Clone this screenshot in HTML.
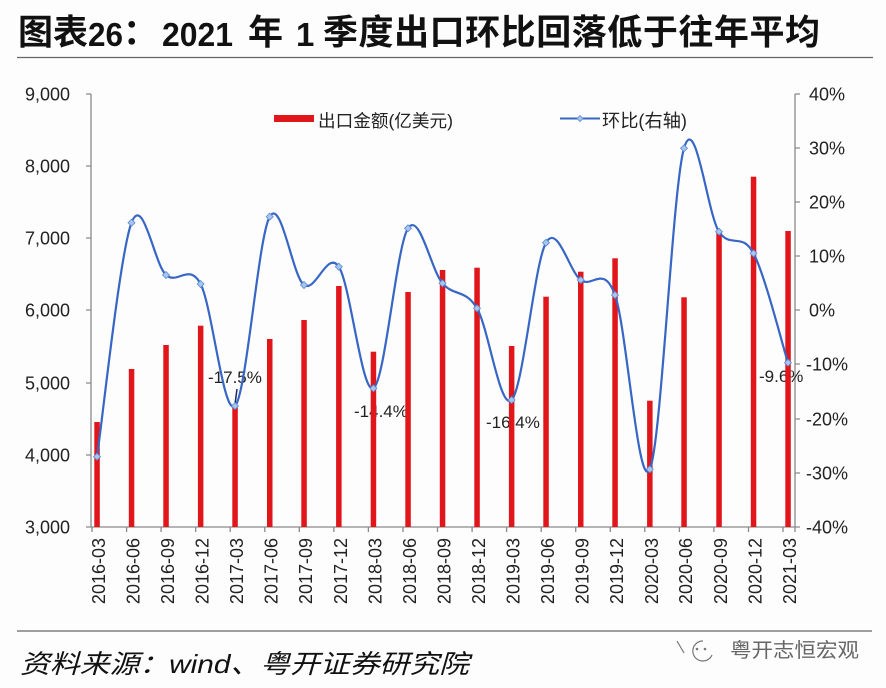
<!DOCTYPE html>
<html><head><meta charset="utf-8"><style>
html,body{margin:0;padding:0;background:#fdfdfd;}
svg{display:block;}
</style></head><body>
<svg width="886" height="688" viewBox="0 0 886 688" xmlns="http://www.w3.org/2000/svg">
<rect width="886" height="688" fill="#fdfdfd"/>
<!-- Title -->
<g fill="#111" font-weight="bold">
<text x="18" y="44.5" font-family="'Noto Sans CJK SC', sans-serif" font-size="35">图表</text>
<text x="88" y="46" font-family="'Liberation Sans', sans-serif" font-size="33" textLength="35" lengthAdjust="spacingAndGlyphs">26</text>
<text x="123" y="44.5" font-family="'Noto Sans CJK SC', sans-serif" font-size="35">：</text>
<text x="162" y="46" font-family="'Liberation Sans', sans-serif" font-size="33" textLength="71" lengthAdjust="spacingAndGlyphs">2021</text>
<text x="248" y="44.5" font-family="'Noto Sans CJK SC', sans-serif" font-size="35">年</text>
<text x="296" y="46" font-family="'Liberation Sans', sans-serif" font-size="33">1</text>
<text x="323" y="44.5" font-family="'Noto Sans CJK SC', sans-serif" font-size="35" textLength="497" lengthAdjust="spacing">季度出口环比回落低于往年平均</text>
</g>
<line x1="17" y1="57.5" x2="873" y2="57.5" stroke="#666" stroke-width="1.2"/>

<!-- Axes -->
<g stroke="#8a8a8a" stroke-width="1.3" fill="none">
<line x1="91" y1="94" x2="91" y2="527"/>
<line x1="795" y1="94" x2="795" y2="527"/>
<line x1="91" y1="527" x2="795" y2="527"/>
<path d="M86 94H91M86 166H91M86 238H91M86 310H91M86 383H91M86 455H91M86 527H91"/>
<path d="M795 94H800M795 148H800M795 202H800M795 256H800M795 310H800M795 364H800M795 419H800M795 473H800M795 527H800"/>
<path d="M92 527V532M126.6 527V532M161.1 527V532M195.7 527V532M230.2 527V532M264.8 527V532M299.3 527V532M333.9 527V532M368.4 527V532M403 527V532M437.5 527V532M472.1 527V532M506.6 527V532M541.2 527V532M575.7 527V532M610.3 527V532M644.8 527V532M679.4 527V532M713.9 527V532M748.5 527V532M783 527V532M795 527V532"/>
</g>

<!-- Left axis labels -->
<g font-family="'Liberation Sans', sans-serif" font-size="18" fill="#222" text-anchor="end">
<text x="70" y="100.5">9,000</text>
<text x="70" y="172.5">8,000</text>
<text x="70" y="244.5">7,000</text>
<text x="70" y="316.5">6,000</text>
<text x="70" y="389.5">5,000</text>
<text x="70" y="461.5">4,000</text>
<text x="70" y="533.5">3,000</text>
</g>
<!-- Right axis labels -->
<g font-family="'Liberation Sans', sans-serif" font-size="18" fill="#222">
<text x="809" y="100.5">40%</text>
<text x="809" y="154.5">30%</text>
<text x="809" y="208.5">20%</text>
<text x="809" y="262.5">10%</text>
<text x="809" y="316.5">0%</text>
<text x="806" y="370.5">-10%</text>
<text x="806" y="425.5">-20%</text>
<text x="806" y="479.5">-30%</text>
<text x="806" y="533.5">-40%</text>
</g>

<!-- X labels -->
<g font-family="'Liberation Sans', sans-serif" font-size="18" fill="#222" text-anchor="end">
<text transform="translate(105,538) rotate(-90)">2016-03</text>
<text transform="translate(139.5,538) rotate(-90)">2016-06</text>
<text transform="translate(174,538) rotate(-90)">2016-09</text>
<text transform="translate(208.6,538) rotate(-90)">2016-12</text>
<text transform="translate(243,538) rotate(-90)">2017-03</text>
<text transform="translate(277.7,538) rotate(-90)">2017-06</text>
<text transform="translate(312,538) rotate(-90)">2017-09</text>
<text transform="translate(346.8,538) rotate(-90)">2017-12</text>
<text transform="translate(381.4,538) rotate(-90)">2018-03</text>
<text transform="translate(416,538) rotate(-90)">2018-06</text>
<text transform="translate(450.5,538) rotate(-90)">2018-09</text>
<text transform="translate(485,538) rotate(-90)">2018-12</text>
<text transform="translate(519.6,538) rotate(-90)">2019-03</text>
<text transform="translate(554,538) rotate(-90)">2019-06</text>
<text transform="translate(588.7,538) rotate(-90)">2019-09</text>
<text transform="translate(623,538) rotate(-90)">2019-12</text>
<text transform="translate(657.8,538) rotate(-90)">2020-03</text>
<text transform="translate(692,538) rotate(-90)">2020-06</text>
<text transform="translate(727,538) rotate(-90)">2020-09</text>
<text transform="translate(761.5,538) rotate(-90)">2020-12</text>
<text transform="translate(796,538) rotate(-90)">2021-03</text>
</g>

<!-- Data labels -->
<g font-family="'Liberation Sans', sans-serif" font-size="17" fill="#222">
<text x="208" y="383">-17.5%</text>
<text x="354" y="417">-14.4%</text>
<text x="486" y="428">-16.4%</text>
<text x="759" y="382">-9.6%</text>
</g>
<line x1="237" y1="389" x2="235" y2="404" stroke="#1b2a5a" stroke-width="1.5"/>

<!-- Bars -->
<g fill="#e0161b">
<rect x="94.3" y="422" width="5.5" height="105"/>
<rect x="128.8" y="369" width="5.5" height="158"/>
<rect x="163.3" y="345" width="5.5" height="182"/>
<rect x="197.9" y="325.7" width="5.5" height="201.3"/>
<rect x="232.3" y="406.7" width="5.5" height="120.3"/>
<rect x="267" y="339" width="5.5" height="188"/>
<rect x="301.3" y="320" width="5.5" height="207"/>
<rect x="336.1" y="286" width="5.5" height="241"/>
<rect x="370.7" y="351.7" width="5.5" height="175.3"/>
<rect x="405.3" y="292" width="5.5" height="235"/>
<rect x="439.8" y="270" width="5.5" height="257"/>
<rect x="474.3" y="267.7" width="5.5" height="259.3"/>
<rect x="508.9" y="346" width="5.5" height="181"/>
<rect x="543.3" y="296.7" width="5.5" height="230.3"/>
<rect x="578" y="271.7" width="5.5" height="255.3"/>
<rect x="612.3" y="258.3" width="5.5" height="268.7"/>
<rect x="647.1" y="400.7" width="5.5" height="126.3"/>
<rect x="681.3" y="297.3" width="5.5" height="229.7"/>
<rect x="716.3" y="231.7" width="5.5" height="295.3"/>
<rect x="750.8" y="176.7" width="5.5" height="350.3"/>
<rect x="785.3" y="231" width="5.5" height="296"/>
</g>

<!-- Line -->
<path fill="none" stroke="#3766c4" stroke-width="2.2" stroke-linejoin="round" d="M97,456.7 C102.75,417.7 120,253 131.5,222.7 C143,192.42 154.48,264.78 166,275 C177.52,285.22 189.1,262.17 200.6,284 C212.1,305.83 223.48,417.22 235,406 C246.52,394.78 258.2,236.87 269.7,216.7 C281.2,196.53 292.48,276.67 304,285 C315.52,293.33 327.23,249.48 338.8,266.7 C350.37,283.92 361.87,394.7 373.4,388.3 C384.93,381.9 396.48,245.8 408,228.3 C419.52,210.8 431,269.97 442.5,283.3 C454,296.63 465.48,288.85 477,308.3 C488.52,327.75 500.1,410.93 511.6,400 C523.1,389.07 534.48,262.7 546,242.7 C557.52,222.7 569.2,271.28 580.7,280 C592.2,288.72 603.48,263.45 615,295 C626.52,326.55 638.3,493.75 649.8,469.3 C661.3,444.85 672.47,187.9 684,148.3 C695.53,108.7 707.42,214.2 719,231.7 C730.58,249.2 742,231.47 753.5,253.3 C765,275.13 782.25,344.47 788,362.7"/>
<!-- Markers -->
<g fill="#a8c6ec" stroke="#5b8ad6" stroke-width="0.8">
<path d="M97 453.2L100.5 456.7L97 460.2L93.5 456.7Z"/>
<path d="M131.5 219.2L135 222.7L131.5 226.2L128 222.7Z"/>
<path d="M166 271.5L169.5 275L166 278.5L162.5 275Z"/>
<path d="M200.6 280.5L204.1 284L200.6 287.5L197.1 284Z"/>
<path d="M235 402.5L238.5 406L235 409.5L231.5 406Z"/>
<path d="M269.7 213.2L273.2 216.7L269.7 220.2L266.2 216.7Z"/>
<path d="M304 281.5L307.5 285L304 288.5L300.5 285Z"/>
<path d="M338.8 263.2L342.3 266.7L338.8 270.2L335.3 266.7Z"/>
<path d="M373.4 384.8L376.9 388.3L373.4 391.8L369.9 388.3Z"/>
<path d="M408 224.8L411.5 228.3L408 231.8L404.5 228.3Z"/>
<path d="M442.5 279.8L446 283.3L442.5 286.8L439 283.3Z"/>
<path d="M477 304.8L480.5 308.3L477 311.8L473.5 308.3Z"/>
<path d="M511.6 396.5L515.1 400L511.6 403.5L508.1 400Z"/>
<path d="M546 239.2L549.5 242.7L546 246.2L542.5 242.7Z"/>
<path d="M580.7 276.5L584.2 280L580.7 283.5L577.2 280Z"/>
<path d="M615 291.5L618.5 295L615 298.5L611.5 295Z"/>
<path d="M649.8 465.8L653.3 469.3L649.8 472.8L646.3 469.3Z"/>
<path d="M684 144.8L687.5 148.3L684 151.8L680.5 148.3Z"/>
<path d="M719 228.2L722.5 231.7L719 235.2L715.5 231.7Z"/>
<path d="M753.5 249.8L757 253.3L753.5 256.8L750 253.3Z"/>
<path d="M788 359.2L791.5 362.7L788 366.2L784.5 362.7Z"/>
</g>

<!-- Legend -->
<rect x="274" y="115" width="40" height="7" fill="#e0161b"/>
<text x="318" y="127" font-family="'Liberation Sans','Noto Sans CJK SC',sans-serif" font-size="17.5" fill="#222" textLength="135" lengthAdjust="spacingAndGlyphs">出口金额(亿美元)</text>
<line x1="560" y1="118.5" x2="600" y2="118.5" stroke="#3766c4" stroke-width="2"/>
<path d="M580 115.5L583 118.5L580 121.5L577 118.5Z" fill="#a8c6ec" stroke="#5b8ad6" stroke-width="0.8"/>
<text x="602" y="127" font-family="'Liberation Sans','Noto Sans CJK SC',sans-serif" font-size="18" fill="#222" textLength="85" lengthAdjust="spacingAndGlyphs">环比(右轴)</text>

<!-- Footer -->
<line x1="17" y1="631" x2="872" y2="631" stroke="#666" stroke-width="1.2"/>
<text x="20" y="673" font-family="'Liberation Sans','Noto Sans CJK SC',sans-serif" font-size="26" font-style="italic" fill="#111" textLength="449" lengthAdjust="spacingAndGlyphs">资料来源：wind、粤开证券研究院</text>
<g stroke="#777" stroke-width="1.2" fill="none">
<path d="M677 641L684 653"/>
<path d="M703 641A10 10 0 1 0 712 655"/>
</g>
<circle cx="697" cy="649" r="1.3" fill="#777"/>
<circle cx="705" cy="649" r="1.3" fill="#777"/>
<text x="730" y="657" font-family="'Noto Sans CJK SC',sans-serif" font-size="20" fill="#666" textLength="129" lengthAdjust="spacingAndGlyphs">粤开志恒宏观</text>
</svg>
</body></html>
